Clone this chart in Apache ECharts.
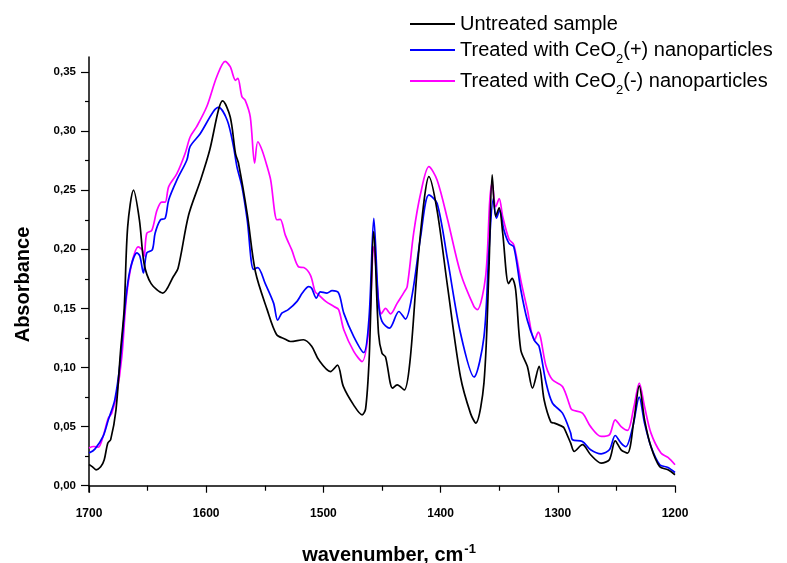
<!DOCTYPE html>
<html>
<head>
<meta charset="utf-8">
<script src="https://cdn.jsdelivr.net/npm/echarts@6/dist/echarts.min.js"></script>
<style>
  html, body { margin: 0; padding: 0; background: #fff; }
  #chart { width: 787px; height: 563px; }
</style>
</head>
<body>
<div id="chart"></div>
<script>
// FTIR absorbance spectra, 1700–1200 cm-1

const seriesNames = [
  'Untreated sample',
  'Treated with CeO2(+) nanoparticles',
  'Treated with CeO2(-) nanoparticles'
];
const seriesColors = ['#000000', '#0000ff', '#ff00ff'];

const untreatedWn = [1700, 1697, 1694, 1690, 1687, 1684, 1681.5, 1677, 1673, 1670, 1667, 1662, 1657, 1653, 1647, 1637, 1628, 1624, 1615, 1605, 1597, 1589.5, 1586, 1579.5, 1575, 1572.5, 1565, 1558, 1548, 1540, 1532.5, 1528, 1517, 1510, 1504, 1494, 1488, 1483, 1474, 1467, 1464, 1461, 1457, 1453, 1450, 1447, 1441, 1437, 1431, 1426, 1420, 1414, 1410, 1403, 1394, 1383, 1374.4, 1370, 1363, 1358.7, 1356, 1353, 1350, 1347, 1342, 1339, 1336, 1331.6, 1326, 1321.6, 1316, 1311.7, 1306, 1303, 1296, 1294.6, 1289, 1286, 1279, 1272, 1263, 1256, 1251, 1246, 1240.5, 1235, 1230.5, 1226, 1220.5, 1213, 1206, 1200];
const untreatedAbs = [0.018, 0.016, 0.0135, 0.016, 0.022, 0.036, 0.039, 0.064, 0.115, 0.149, 0.219, 0.250, 0.225, 0.188, 0.171, 0.163, 0.177, 0.184, 0.229, 0.258, 0.284, 0.318, 0.3255, 0.312, 0.281, 0.273, 0.230, 0.181, 0.149, 0.128, 0.124, 0.122, 0.1235, 0.118, 0.1065, 0.0966, 0.102, 0.084, 0.068, 0.060, 0.065, 0.1065, 0.215, 0.129, 0.112, 0.109, 0.0826, 0.0854, 0.081, 0.1065, 0.183, 0.242, 0.2615, 0.233, 0.168, 0.092, 0.061, 0.053, 0.087, 0.185, 0.263, 0.228, 0.235, 0.2136, 0.171, 0.1755, 0.166, 0.115, 0.101, 0.0826, 0.101, 0.0727, 0.054, 0.053, 0.050, 0.0488, 0.036, 0.029, 0.0347, 0.0262, 0.0192, 0.022, 0.038, 0.0304, 0.0276, 0.0558, 0.0845, 0.056, 0.033, 0.016, 0.0135, 0.0093];

const ceoPlusWn = [1700, 1695, 1688, 1683.5, 1678, 1673.5, 1669, 1665, 1659, 1656.5, 1653.6, 1650.7, 1646, 1643.6, 1639, 1635, 1632, 1625, 1616.5, 1613.7, 1605, 1594, 1589.5, 1582, 1576.7, 1573.8, 1569.5, 1565, 1559.6, 1556, 1549.6, 1542.5, 1539, 1535.5, 1530, 1522.5, 1518, 1512.6, 1510, 1506, 1502.6, 1497, 1492.6, 1487, 1482.6, 1474, 1465.6, 1461, 1457, 1453, 1450, 1443.6, 1435.6, 1430, 1424, 1417, 1410, 1403, 1394, 1383, 1371.5, 1363, 1358.7, 1355, 1352.4, 1349.6, 1346, 1341.6, 1337.5, 1331.6, 1326, 1320, 1316, 1310, 1304.6, 1296, 1289, 1287.5, 1279, 1272, 1263, 1256, 1251, 1246, 1242, 1236, 1230.5, 1226, 1220.5, 1213, 1206, 1200];
const ceoPlusAbs = [0.0276, 0.031, 0.0417, 0.0558, 0.0727, 0.1037, 0.154, 0.1826, 0.197, 0.194, 0.180, 0.197, 0.1995, 0.2136, 0.225, 0.2263, 0.2418, 0.2587, 0.2756, 0.287, 0.298, 0.3164, 0.320, 0.309, 0.287, 0.270, 0.253, 0.225, 0.183, 0.1846, 0.171, 0.1545, 0.140, 0.146, 0.149, 0.156, 0.163, 0.1685, 0.167, 0.1587, 0.164, 0.163, 0.165, 0.163, 0.146, 0.126, 0.1127, 0.143, 0.2263, 0.1545, 0.139, 0.1333, 0.1474, 0.141, 0.163, 0.211, 0.246, 0.239, 0.191, 0.129, 0.092, 0.126, 0.1995, 0.243, 0.2263, 0.233, 0.2164, 0.205, 0.202, 0.166, 0.140, 0.123, 0.118, 0.087, 0.070, 0.0614, 0.0445, 0.0389, 0.0375, 0.0304, 0.027, 0.0304, 0.0425, 0.036, 0.033, 0.050, 0.075, 0.053, 0.0332, 0.0178, 0.0155, 0.0112];

const ceoMinusWn = [1700, 1696, 1692, 1688, 1683.5, 1680.6, 1676.3, 1672, 1668, 1663.5, 1658, 1654.5, 1653, 1650.7, 1646.4, 1642, 1638, 1635, 1632, 1625, 1618, 1613.7, 1608, 1599.4, 1591, 1583.8, 1579.5, 1575, 1573, 1569.5, 1566.7, 1562.4, 1558.7, 1556, 1552.4, 1548, 1545, 1539.6, 1536.8, 1532.5, 1527, 1521, 1516.8, 1511, 1507, 1504, 1498, 1491, 1487, 1482.6, 1474, 1467, 1461, 1457, 1453, 1450.6, 1447, 1442.7, 1437, 1431, 1428.5, 1423, 1417, 1410, 1403, 1394, 1383, 1371.5, 1368.6, 1361.6, 1358, 1356, 1353, 1350, 1347, 1341.6, 1337.5, 1331.6, 1326, 1320, 1316.7, 1310, 1304.6, 1296, 1289, 1287.5, 1279, 1272, 1263, 1256, 1251, 1246, 1240.5, 1235, 1230.5, 1226, 1220.5, 1212, 1206, 1200];
const ceoMinusAbs = [0.032, 0.0332, 0.0327, 0.0417, 0.0572, 0.0614, 0.078, 0.109, 0.160, 0.188, 0.202, 0.1995, 0.194, 0.2136, 0.216, 0.233, 0.240, 0.240, 0.253, 0.264, 0.281, 0.295, 0.304, 0.321, 0.346, 0.359, 0.3545, 0.343, 0.3446, 0.329, 0.326, 0.312, 0.273, 0.291, 0.284, 0.270, 0.2587, 0.225, 0.2254, 0.212, 0.1995, 0.185, 0.1846, 0.178, 0.164, 0.1615, 0.156, 0.1516, 0.149, 0.132, 0.1135, 0.105, 0.1347, 0.2023, 0.157, 0.1454, 0.150, 0.1454, 0.1545, 0.164, 0.1685, 0.2136, 0.2474, 0.270, 0.2587, 0.225, 0.180, 0.1516, 0.149, 0.177, 0.242, 0.256, 0.236, 0.243, 0.2276, 0.2085, 0.2037, 0.174, 0.149, 0.123, 0.130, 0.101, 0.0896, 0.084, 0.0657, 0.064, 0.0614, 0.050, 0.0417, 0.043, 0.0558, 0.050, 0.0468, 0.067, 0.0868, 0.067, 0.0445, 0.0276, 0.024, 0.0178];

const xLabelValues = [1200, 1300, 1400, 1500, 1600, 1700];
const xMinorTickValues = [1250, 1350, 1450, 1550, 1650];
const yLabelValues = [0, 0.05, 0.10, 0.15, 0.20, 0.25, 0.30, 0.35];
const yMinorTickValues = [0.025, 0.075, 0.125, 0.175, 0.225, 0.275, 0.325];

const spectra = [
  [untreatedWn, untreatedAbs],
  [ceoPlusWn, ceoPlusAbs],
  [ceoMinusWn, ceoMinusAbs]
];

const zip = (xs, ys) => xs.map((x, i) => [x, ys[i]]);

const FONT = '"Liberation Sans", Arial, sans-serif';
const X_RANGE = { min: 1200, max: 1700 };
const Y_RANGE = { min: -0.0053, max: 0.3627 };
const AXIS_LINE = { show: true, lineStyle: { color: '#000', width: 1.5 } };
const TICK_STYLE = { color: '#000', width: 1.2 };

// legend text with subscript "2" in CeO2
const legendRich = {
  n: { fontSize: 20, fontFamily: FONT, color: '#000', lineHeight: 24 },
  s: { fontSize: 13, fontFamily: FONT, color: '#000', lineHeight: 24, verticalAlign: 'bottom', padding: [0, 0, -4, 0] }
};
const legendFormatter = name => {
  const i = name.indexOf('CeO2');
  if (i < 0) return '{n|' + name + '}';
  return '{n|' + name.slice(0, i + 3) + '}{s|2}{n|' + name.slice(i + 4) + '}';
};
const legendTops = [9, 35, 66];

const chart = echarts.init(document.getElementById('chart'), null, { renderer: 'canvas' });

chart.setOption({
  animation: false,
  backgroundColor: '#fff',
  grid: { left: 89, right: 112, top: 57, bottom: 71, containLabel: false, outerBoundsMode: 'none' },
  legend: seriesNames.map((name, i) => ({
    data: [name],
    left: 405,
    top: legendTops[i],
    icon: 'rect',
    itemWidth: 45,
    itemHeight: 2,
    itemGap: 14,
    formatter: legendFormatter,
    textStyle: { rich: legendRich, padding: [0, 0, 0, 0] },
    selectedMode: false
  })),
  xAxis: [
    {
      type: 'value',
      inverse: true,
      ...X_RANGE,
      name: '{b|wavenumber, cm}{sup|-1}',
      nameLocation: 'middle',
      nameGap: 51,
      nameTextStyle: {
        padding: [0, 0, 0, 14],
        rich: {
          b: { fontSize: 20, fontWeight: 'bold', fontFamily: FONT, color: '#000', lineHeight: 24 },
          sup: { fontSize: 13, fontWeight: 'bold', fontFamily: FONT, color: '#000', lineHeight: 24, verticalAlign: 'top', padding: [0, 0, 10, 1] }
        }
      },
      axisLine: AXIS_LINE,
      axisTick: { show: true, inside: false, length: 7, customValues: xLabelValues, lineStyle: TICK_STYLE },
      axisLabel: {
        customValues: xLabelValues,
        margin: 16,
        fontSize: 12,
        fontWeight: 'bold',
        fontFamily: FONT,
        color: '#000',
        formatter: v => String(v)
      },
      splitLine: { show: false }
    },
    {
      // minor ticks every 50 cm-1
      type: 'value',
      inverse: true,
      ...X_RANGE,
      position: 'bottom',
      offset: 0,
      axisLine: { show: false },
      axisTick: { show: true, inside: false, length: 5, customValues: xMinorTickValues, lineStyle: TICK_STYLE },
      axisLabel: { show: false },
      splitLine: { show: false }
    }
  ],
  yAxis: [
    {
      type: 'value',
      ...Y_RANGE,
      name: 'Absorbance',
      nameLocation: 'middle',
      nameGap: 56,
      nameRotate: 90,
      nameTextStyle: { fontSize: 20, fontWeight: 'bold', fontFamily: FONT, color: '#000', padding: [0, 20, 0, 0] },
      axisLine: AXIS_LINE,
      axisTick: { show: true, inside: false, length: 8, customValues: yLabelValues, lineStyle: TICK_STYLE },
      axisLabel: {
        customValues: yLabelValues,
        margin: 13,
        fontSize: 11.5,
        fontWeight: 'bold',
        fontFamily: FONT,
        color: '#000',
        formatter: v => v.toFixed(2).replace('.', ',')
      },
      splitLine: { show: false }
    },
    {
      // minor ticks every 0.025
      type: 'value',
      ...Y_RANGE,
      position: 'left',
      offset: 0,
      axisLine: { show: false },
      axisTick: { show: true, inside: false, length: 4, customValues: yMinorTickValues, lineStyle: TICK_STYLE },
      axisLabel: { show: false },
      splitLine: { show: false }
    }
  ],
  series: spectra.map(([wn, ab], i) => ({
    name: seriesNames[i],
    type: 'line',
    xAxisIndex: 0,
    yAxisIndex: 0,
    data: zip(wn, ab),
    showSymbol: false,
    symbol: 'none',
    smooth: 0.3,
    clip: true,
    color: seriesColors[i],
    lineStyle: { color: seriesColors[i], width: 1.7 },
    z: 3 - i
  }))
});
</script>
</body>
</html>
